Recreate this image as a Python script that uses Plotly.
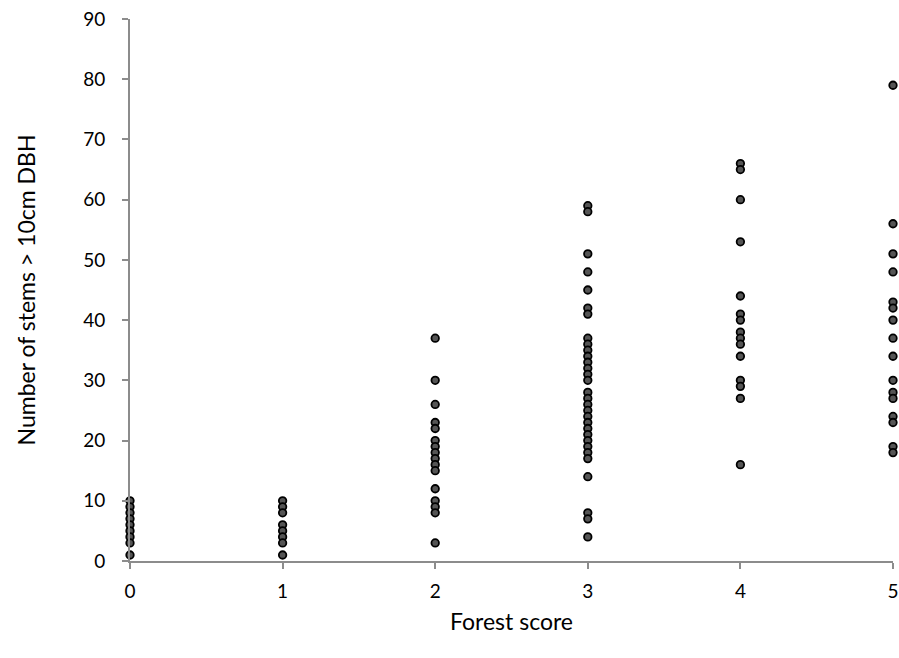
import plotly.graph_objects as go

forest_score = [0, 1, 2, 3, 4, 5]
stems_0 = [10, 9, 8, 7, 6, 5, 4, 3, 1]
stems_1 = [10, 9, 8, 6, 5, 4, 3, 1]
stems_2 = [37, 30, 26, 23, 22, 20, 19, 18, 17, 16, 15, 12, 10, 9, 8, 3]
stems_3 = [59, 58, 51, 48, 45, 42, 41, 37, 36, 35, 34, 33, 32, 31, 30,
           28, 27, 26, 25, 24, 23, 22, 21, 20, 19, 18, 17, 14, 8, 7, 4]
stems_4 = [66, 65, 60, 53, 44, 41, 40, 38, 37, 36, 34, 30, 29, 27, 16]
stems_5 = [79, 56, 51, 48, 43, 42, 40, 37, 34, 30, 28, 27, 24, 23, 19, 18]

groups = [stems_0, stems_1, stems_2, stems_3, stems_4, stems_5]
xs, ys = [], []
for s, vals in zip(forest_score, groups):
    xs += [s] * len(vals)
    ys += vals

font_family = "Lato, Open Sans, Arial"

fig = go.Figure(go.Scatter(
    x=xs, y=ys, mode="markers",
    marker=dict(size=7.5, color="#555555", line=dict(color="black", width=1.8)),
    cliponaxis=False, showlegend=False,
))

fig.update_layout(
    width=899, height=658,
    margin=dict(l=130, r=6, t=19, b=97),
    paper_bgcolor="white", plot_bgcolor="white",
    font=dict(family=font_family, size=19, color="black"),
    xaxis=dict(
        range=[0, 5], tickvals=forest_score, showgrid=False, zeroline=False,
        automargin=False, ticklabeloverflow="allow",
        showline=True, linecolor="#8c8c8c", linewidth=2,
        ticks="outside", ticklen=6, tickcolor="#8c8c8c", tickwidth=2,
        ticklabelstandoff=6,
        title=dict(text="Forest score", standoff=13, font=dict(size=23)),
    ),
    yaxis=dict(
        range=[0, 90], dtick=10, showgrid=False, zeroline=False,
        automargin=False, ticklabeloverflow="allow",
        showline=True, linecolor="#8c8c8c", linewidth=2,
        ticks="outside", ticklen=6, tickcolor="#8c8c8c", tickwidth=2,
        ticklabelstandoff=13,
        title=dict(text="Number of stems > 10cm DBH", standoff=41, font=dict(size=23)),
    ),
)

fig.write_html(
    "out.html",
    config={"displayModeBar": False},
    post_script="document.body.style.margin='0';document.body.style.overflow='hidden';",
)
